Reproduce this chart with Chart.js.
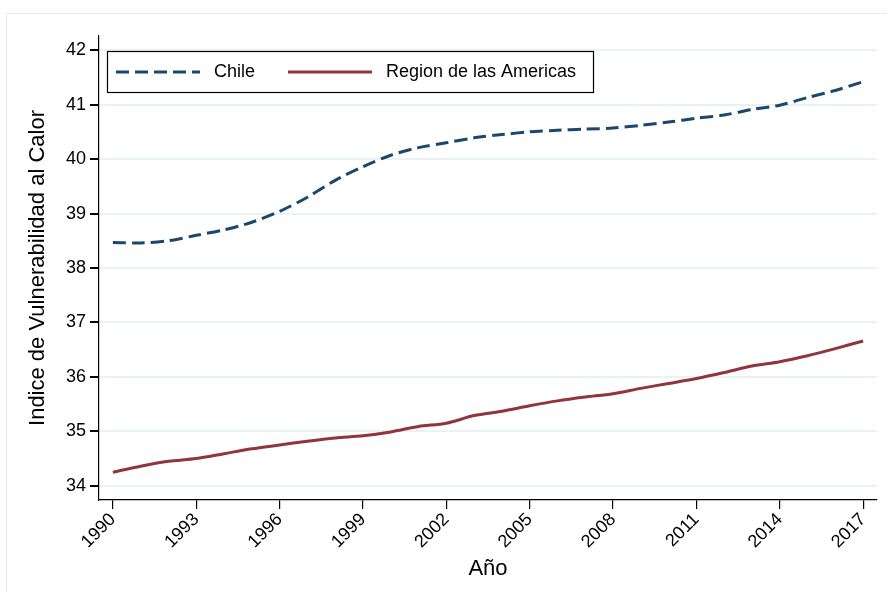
<!DOCTYPE html>
<html>
<head>
<meta charset="utf-8">
<script src="https://cdn.jsdelivr.net/npm/chart.js@4.4.1/dist/chart.umd.min.js"></script>
<style>
  html, body { margin: 0; padding: 0; background: #fff; }
  #wrap { width: 887px; height: 592px; position: relative; }
</style>
</head>
<body>
<div id="wrap"><canvas id="heatChart"></canvas></div>
<script>
// data
const years = [1990, 1991, 1992, 1993, 1994, 1995, 1996, 1997, 1998, 1999,
               2000, 2001, 2002, 2003, 2004, 2005, 2006, 2007, 2008, 2009,
               2010, 2011, 2012, 2013, 2014, 2015, 2016, 2017];
const chileValues = [38.47, 38.46, 38.50, 38.60, 38.70, 38.84, 39.04, 39.30, 39.61, 39.86,
                     40.07, 40.21, 40.30, 40.39, 40.45, 40.50, 40.53, 40.55, 40.57, 40.62,
                     40.68, 40.75, 40.81, 40.91, 40.99, 41.13, 41.26, 41.42];
const americasValues = [34.25, 34.36, 34.45, 34.50, 34.59, 34.68, 34.75, 34.82, 34.88, 34.92,
                        34.99, 35.09, 35.15, 35.29, 35.37, 35.47, 35.56, 35.63, 35.69, 35.79,
                        35.88, 35.97, 36.08, 36.20, 36.28, 36.39, 36.52, 36.66];
const xTicks = [1990, 1993, 1996, 1999, 2002, 2005, 2008, 2011, 2014, 2017];
const yTicks = [34, 35, 36, 37, 38, 39, 40, 41, 42];
const seriesNames = ['Chile', 'Region de las Americas'];

const colors = {
    chile: '#1a476f',
    americas: '#90353b',
    grid: '#eaf2f3',
    axis: '#000000'
};

const FONT = "'Liberation Sans', Arial, sans-serif";

// faint outer frame + legend box drawn inside the plot
const framePlugin = {
    id: 'frame',
    beforeDraw(chart) {
        const ctx = chart.ctx;
        ctx.save();
        ctx.strokeStyle = '#e8ecef';
        ctx.lineWidth = 1;
        ctx.strokeRect(6.5, 13.5, 900, 600);
        ctx.restore();
    },
    afterDraw(chart) {
        const ctx = chart.ctx;
        const area = chart.chartArea;
        const x0 = area.left + 8, y0 = area.top + 15;
        const w = 486, h = 41;
        ctx.save();
        ctx.fillStyle = '#fff';
        ctx.fillRect(x0, y0, w, h);
        ctx.strokeStyle = '#000';
        ctx.lineWidth = 1.2;
        ctx.strokeRect(x0 + 0.5, y0 + 0.5, w, h);

        const midY = y0 + h / 2 + 0.5;
        const items = [
            { sx: x0 + 9, tx: x0 + 107 },
            { sx: x0 + 181, tx: x0 + 279 }
        ];
        ctx.font = '18px ' + FONT;
        ctx.textBaseline = 'middle';
        chart.data.datasets.forEach((ds, i) => {
            const it = items[i];
            ctx.beginPath();
            ctx.strokeStyle = ds.borderColor;
            ctx.lineWidth = ds.borderWidth;
            ctx.setLineDash(ds.borderDash || []);
            ctx.moveTo(it.sx, midY);
            ctx.lineTo(it.sx + 84, midY);
            ctx.stroke();
            ctx.setLineDash([]);
            ctx.fillStyle = '#000';
            ctx.fillText(ds.label, it.tx, midY);
        });
        ctx.restore();
    }
};

new Chart(document.getElementById('heatChart'), {
    type: 'line',
    data: {
        datasets: [{
            label: seriesNames[0],
            data: years.map((y, i) => ({ x: y, y: chileValues[i] })),
            borderColor: colors.chile,
            borderWidth: 3,
            borderDash: [13, 6],
            pointRadius: 0,
            tension: 0.3,
            fill: false
        }, {
            label: seriesNames[1],
            data: years.map((y, i) => ({ x: y, y: americasValues[i] })),
            borderColor: colors.americas,
            borderWidth: 3,
            pointRadius: 0,
            tension: 0.3,
            fill: false
        }]
    },
    options: {
        responsive: true,
        maintainAspectRatio: false,
        animation: false,
        layout: {
            padding: { top: 36, right: 10, left: 0, bottom: 0 }
        },
        plugins: {
            legend: { display: false },
            tooltip: { enabled: false }
        },
        scales: {
            x: {
                type: 'linear',
                min: 1989.5,
                max: 2017.5,
                afterBuildTicks(scale) {
                    scale.ticks = xTicks.map(v => ({ value: v }));
                },
                afterFit(scale) {
                    scale.height = 92;
                },
                grid: {
                    drawOnChartArea: false,
                    tickColor: colors.axis,
                    tickLength: 9,
                    lineWidth: 1.2
                },
                border: { color: colors.axis, width: 1.2 },
                ticks: {
                    color: '#000',
                    font: { family: FONT, size: 18 },
                    maxRotation: 45,
                    minRotation: 45,
                    padding: 0,
                    autoSkip: false,
                    callback: v => String(v)
                },
                title: {
                    display: true,
                    text: 'Año',
                    color: '#000',
                    font: { family: FONT, size: 22 },
                    padding: { top: 0, bottom: 10 }
                }
            },
            y: {
                min: 33.74,
                max: 42.26,
                afterBuildTicks(scale) {
                    scale.ticks = yTicks.map(v => ({ value: v }));
                },
                afterFit(scale) {
                    scale.width = 99;
                },
                grid: {
                    color: colors.grid,
                    lineWidth: 2,
                    tickColor: colors.axis,
                    tickLength: 9
                },
                border: { color: colors.axis, width: 1.2 },
                ticks: {
                    color: '#000',
                    font: { family: FONT, size: 18 },
                    padding: 4,
                    callback: v => String(v)
                },
                title: {
                    display: true,
                    text: 'Indice de Vulnerabilidad al Calor',
                    color: '#000',
                    font: { family: FONT, size: 22 },
                    padding: { top: 25, bottom: 0 }
                }
            }
        }
    },
    plugins: [framePlugin]
});
</script>
</body>
</html>
